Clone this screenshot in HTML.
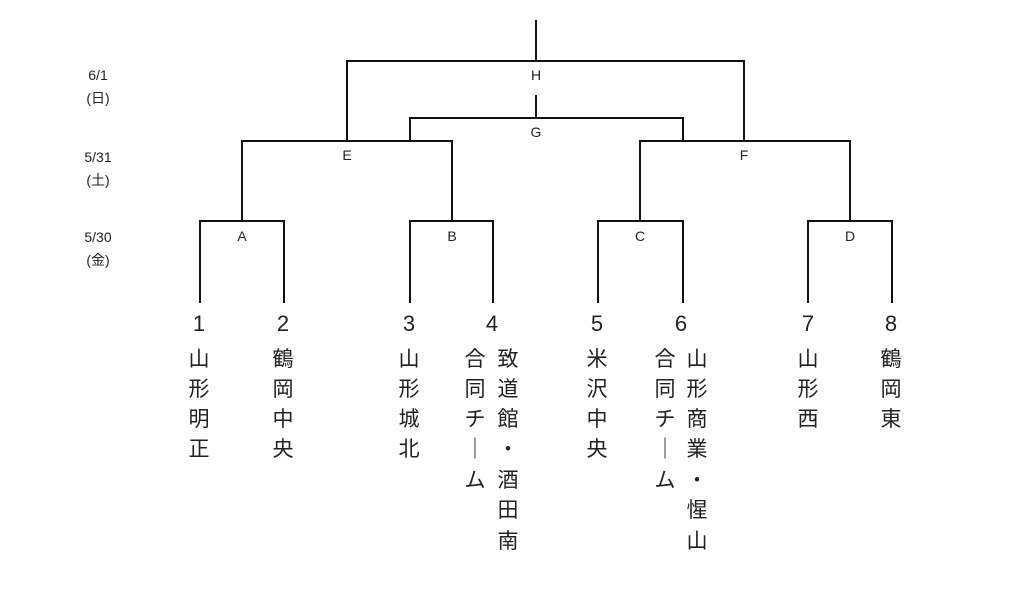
<!DOCTYPE html><html><head><meta charset="utf-8"><style>
body{margin:0;background:#fff}
svg text{font-family:"Liberation Sans","Noto Sans CJK JP",sans-serif;fill:#222}
</style></head><body>
<svg width="1024" height="584" viewBox="0 0 1024 584" xmlns="http://www.w3.org/2000/svg">
<g stroke="#111" stroke-width="2" fill="none">
<path d="M536 20V61M347 141V61H744V141M536 95V118M410 141V118H683V141M242 221V141H452V221M640 221V141H850V221"/>
<path d="M200 303V221H284V303M410 303V221H493V303M598 303V221H683V303M808 303V221H892V303"/>
</g>
<g font-size="14" text-anchor="middle">
<text x="536" y="80">H</text><text x="536" y="137">G</text>
<text x="347" y="160">E</text><text x="744" y="160">F</text>
<text x="242" y="241">A</text><text x="452" y="241">B</text><text x="640" y="241">C</text><text x="850" y="241">D</text>
<text x="98" y="80">6/1</text><text x="98" y="103">(日)</text>
<text x="98" y="162">5/31</text><text x="98" y="185">(土)</text>
<text x="98" y="242">5/30</text><text x="98" y="265">(金)</text>
</g>
<g font-size="22" text-anchor="middle">
<text x="199" y="331">1</text><text x="283" y="331">2</text><text x="409" y="331">3</text><text x="492" y="331">4</text>
<text x="597" y="331">5</text><text x="681" y="331">6</text><text x="808" y="331">7</text><text x="891" y="331">8</text>
</g>
<g font-size="21" text-anchor="middle">
<text x="199" y="366">山</text><text x="199" y="396">形</text><text x="199" y="426">明</text><text x="199" y="456">正</text>
<text x="283" y="366">鶴</text><text x="283" y="396">岡</text><text x="283" y="426">中</text><text x="283" y="456">央</text>
<text x="409" y="366">山</text><text x="409" y="396">形</text><text x="409" y="426">城</text><text x="409" y="456">北</text>
<text x="475" y="366">合</text><text x="475" y="396">同</text><text x="475" y="426">チ</text><text x="475" y="456">｜</text><text x="475" y="487">ム</text>
<text x="508" y="366">致</text><text x="508" y="396">道</text><text x="508" y="426">館</text><text x="508" y="456">・</text><text x="508" y="487">酒</text><text x="508" y="517">田</text><text x="508" y="548">南</text>
<text x="597" y="366">米</text><text x="597" y="396">沢</text><text x="597" y="426">中</text><text x="597" y="456">央</text>
<text x="665" y="366">合</text><text x="665" y="396">同</text><text x="665" y="426">チ</text><text x="665" y="456">｜</text><text x="665" y="487">ム</text>
<text x="697" y="366">山</text><text x="697" y="396">形</text><text x="697" y="426">商</text><text x="697" y="456">業</text><text x="697" y="487">・</text><text x="697" y="517">惺</text><text x="697" y="548">山</text>
<text x="808" y="366">山</text><text x="808" y="396">形</text><text x="808" y="426">西</text>
<text x="891" y="366">鶴</text><text x="891" y="396">岡</text><text x="891" y="426">東</text>
</g>
</svg></body></html>
